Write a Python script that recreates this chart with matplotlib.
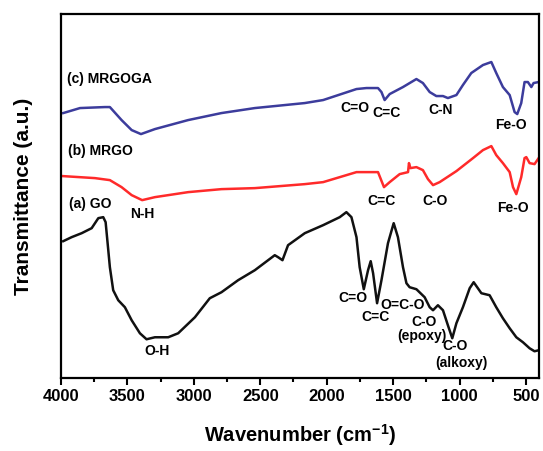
import matplotlib
matplotlib.use("Agg")
import matplotlib.pyplot as plt
from matplotlib.ticker import MultipleLocator

plt.rcParams["font.family"] = ["Liberation Sans", "DejaVu Sans"]
plt.rcParams["font.weight"] = "bold"
plt.rcParams["mathtext.fontset"] = "custom"
plt.rcParams["mathtext.rm"] = "Liberation Sans:bold"
plt.rcParams["mathtext.default"] = "rm"

# (a) GO
go_wn = [3983, 3920, 3844, 3769, 3744, 3719, 3682, 3664, 3649, 3632, 3607, 3569,
         3519, 3468, 3406, 3356, 3293, 3193, 3118, 2992, 2880, 2792, 2667, 2541,
         2391, 2366, 2333, 2291, 2165, 2027, 1902, 1852, 1814, 1776, 1752, 1721,
         1689, 1669, 1651, 1621, 1588, 1539, 1496, 1464, 1426, 1400, 1376, 1325,
         1263, 1225, 1200, 1163, 1125, 1088, 1055, 1024, 975, 924, 894, 836, 774,
         724, 674, 623, 573, 523, 473, 436, 405]
go_t = [137, 141, 145, 150, 155, 160, 161, 156, 135, 111, 88, 78,
        71, 58, 45, 39, 41, 41, 45, 61, 80, 86, 98, 108,
        123, 121, 118, 133, 145, 153, 161, 166, 161, 141, 111, 89,
        108, 117, 105, 75, 98, 135, 155, 141, 111, 95, 91, 89,
        81, 71, 68, 73, 68, 53, 40, 55, 71, 90, 96, 85, 83,
        71, 60, 50, 41, 36, 30, 27, 28]

# (b) MRGO
mrgo_wn = [3983, 3744, 3632, 3544, 3468, 3389, 3293, 3043, 2792, 2541, 2165, 2027,
           1776, 1614, 1569, 1526, 1451, 1388, 1381, 1370, 1325, 1276, 1238, 1200,
           1150, 1024, 899, 824, 761, 724, 674, 623, 598, 573, 536, 511, 498, 473,
           436, 405]
mrgo_t = [202, 200, 198, 191, 183, 178, 181, 186, 189, 190, 194, 196,
          206, 206, 191, 196, 204, 206, 215, 210, 211, 208, 199, 193,
          196, 207, 220, 228, 232, 223, 215, 206, 191, 184, 201, 220, 221, 215,
          214, 220]

# (c) MRGOGA
mrgoga_wn = [3983, 3857, 3669, 3632, 3544, 3468, 3398, 3293, 3043, 2792, 2541, 2165,
             2027, 1776, 1701, 1614, 1588, 1564, 1526, 1426, 1325, 1276, 1225, 1175,
             1125, 1088, 1024, 975, 912, 824, 761, 724, 674, 623, 586, 566, 536, 511,
             486, 460, 443, 405]
mrgoga_t = [265, 270, 271, 271, 258, 248, 244, 249, 258, 265, 270, 275,
            278, 289, 290, 290, 286, 278, 284, 291, 299, 295, 286, 282,
            282, 280, 283, 293, 305, 313, 316, 305, 291, 283, 266, 264, 275, 296,
            296, 291, 295, 296]

# label text, wavenumber, transmittance
curve_labels = [("(c) MRGOGA", 3955, 299), ("(b) MRGO", 3947, 227), ("(a) GO", 3940, 174)]
band_labels = [
    ("C=O", 1784, 270), ("C=C", 1551, 265), ("C-N", 1145, 268), ("Fe-O", 616, 253),
    ("N-H", 3389, 164), ("C=C", 1588, 177), ("C-O", 1187, 177), ("Fe-O", 599, 170),
    ("O-H", 3280, 27), ("C=O", 1806, 80), ("C=C", 1631, 61), ("O=C-O", 1426, 73),
    ("C-O", 1268, 56), ("(epoxy)", 1280, 42), ("C-O", 1037, 32), ("(alkoxy)", 987, 15),
]

fig = plt.figure(figsize=(5.43, 4.51), dpi=100)
ax = fig.add_axes([0.1123, 0.1612, 0.8809, 0.8078])

ax.plot(go_wn, go_t, color="#111111", lw=1.8)
ax.plot(mrgo_wn, mrgo_t, color="#ff2a2a", lw=1.8)
ax.plot(mrgoga_wn, mrgoga_t, color="#3c3c9c", lw=1.8)

for txt, x, y in curve_labels:
    ax.text(x, y, txt, ha="left", va="center", fontsize=10, fontweight="bold")
for txt, x, y in band_labels:
    ax.text(x, y, txt, ha="center", va="center", fontsize=10, fontweight="bold")

ax.set_xlim(4000, 400)
ax.set_ylim(0, 364)
ax.xaxis.set_major_locator(MultipleLocator(500))
ax.xaxis.set_minor_locator(MultipleLocator(250))
ax.set_yticks([])
ax.tick_params(axis="x", which="major", direction="out", length=5, width=1.5,
               labelsize=12, pad=3, top=False)
ax.tick_params(axis="x", which="minor", direction="out", length=3, width=1.5, top=False)
for s in ax.spines.values():
    s.set_linewidth(1.6)

ax.set_xlabel("Wavenumber (cm$^{-1}$)", fontsize=14.5, fontweight="bold", labelpad=13)
ax.set_ylabel("Transmittance (a.u.)", fontsize=15, fontweight="bold", labelpad=20)

fig.savefig("out.png", dpi=100)
